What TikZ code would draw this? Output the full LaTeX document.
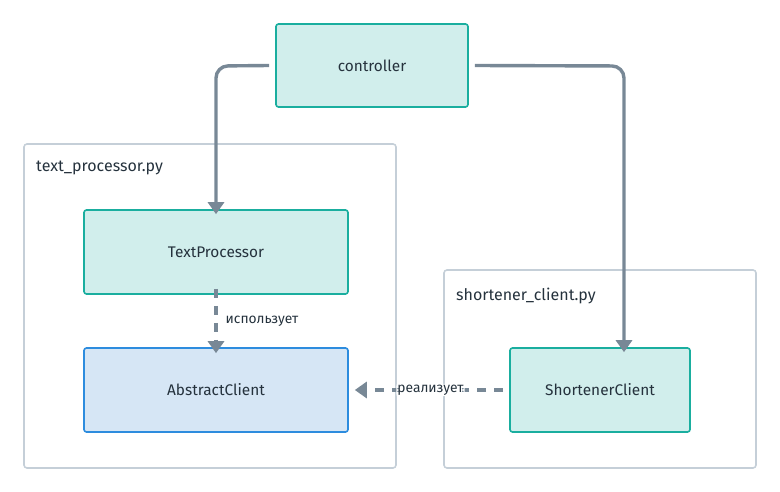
\documentclass[tikz,border=0pt]{standalone}
\usepackage{fontspec}
\setmainfont{Fira Sans}
\usetikzlibrary{arrows.meta}
\definecolor{tealfill}{HTML}{D1EEEC}
\definecolor{tealline}{HTML}{1AAE9F}
\definecolor{bluefill}{HTML}{D6E6F5}
\definecolor{blueline}{HTML}{2D8CDE}
\definecolor{grpline}{HTML}{C5CFD8}
\definecolor{edgecol}{HTML}{788896}
\definecolor{txtcol}{HTML}{25323D}
\tikzset{
  box/.style={draw=tealline, fill=tealfill, line width=1.6pt, rounded corners=2.5pt, text=txtcol, font=\fontsize{15.4}{18}\selectfont},
  abox/.style={box, draw=blueline, fill=bluefill},
  grp/.style={draw=grpline, line width=1.6pt, rounded corners=3pt},
  grplabel/.style={anchor=west, text=txtcol, font=\fontsize{16}{18}\selectfont, inner sep=0pt},
  conn/.style={draw=edgecol, line width=3.4pt, rounded corners=12pt, -{Triangle[length=12pt,width=16pt]}},
  dconn/.style={conn, dash pattern=on 9pt off 8pt},
  elabel/.style={text=txtcol, font=\fontsize{13.8}{16}\selectfont, inner sep=1pt}
}
\begin{document}
\begin{tikzpicture}[x=1pt,y=-1pt]
\useasboundingbox (0,0) rectangle (780,492);
% groups
\draw[grp] (24,144) rectangle (396,468);
\node[grplabel] (g1) at (36,168) {text\_processor.py};
\draw[grp] (444,270) rectangle (756,468);
\node[grplabel] (g2) at (456,296) {shortener\_client.py};
% nodes
\node[box, minimum width=192pt, minimum height=83pt] (ctrl) at (372,65.5) {controller};
\node[box, minimum width=264pt, minimum height=84pt] (tp) at (216,252) {TextProcessor};
\node[abox, minimum width=264pt, minimum height=84pt] (ac) at (216,390) {AbstractClient};
\node[box, minimum width=180pt, minimum height=84pt] (sc) at (600,390) {ShortenerClient};
% connectors
\coordinate (c1) at (216,66);
\coordinate (c2) at (624,66);
\draw[conn] ([xshift=-6pt]ctrl.west) -- (c1) -- ([yshift=-5pt]tp.north);
\draw[conn] ([xshift=6pt]ctrl.east) -- (c2) -- ([xshift=24pt,yshift=-5pt]sc.north);
\draw[dconn] ([yshift=6pt]tp.south) -- node[elabel, right=7pt] {использует} ([yshift=-6pt]ac.north);
\draw[dconn] ([xshift=-6pt]sc.west) -- node[elabel, fill=white, pos=0.49] {реализует} ([xshift=6pt]ac.east);
\end{tikzpicture}
\end{document}
